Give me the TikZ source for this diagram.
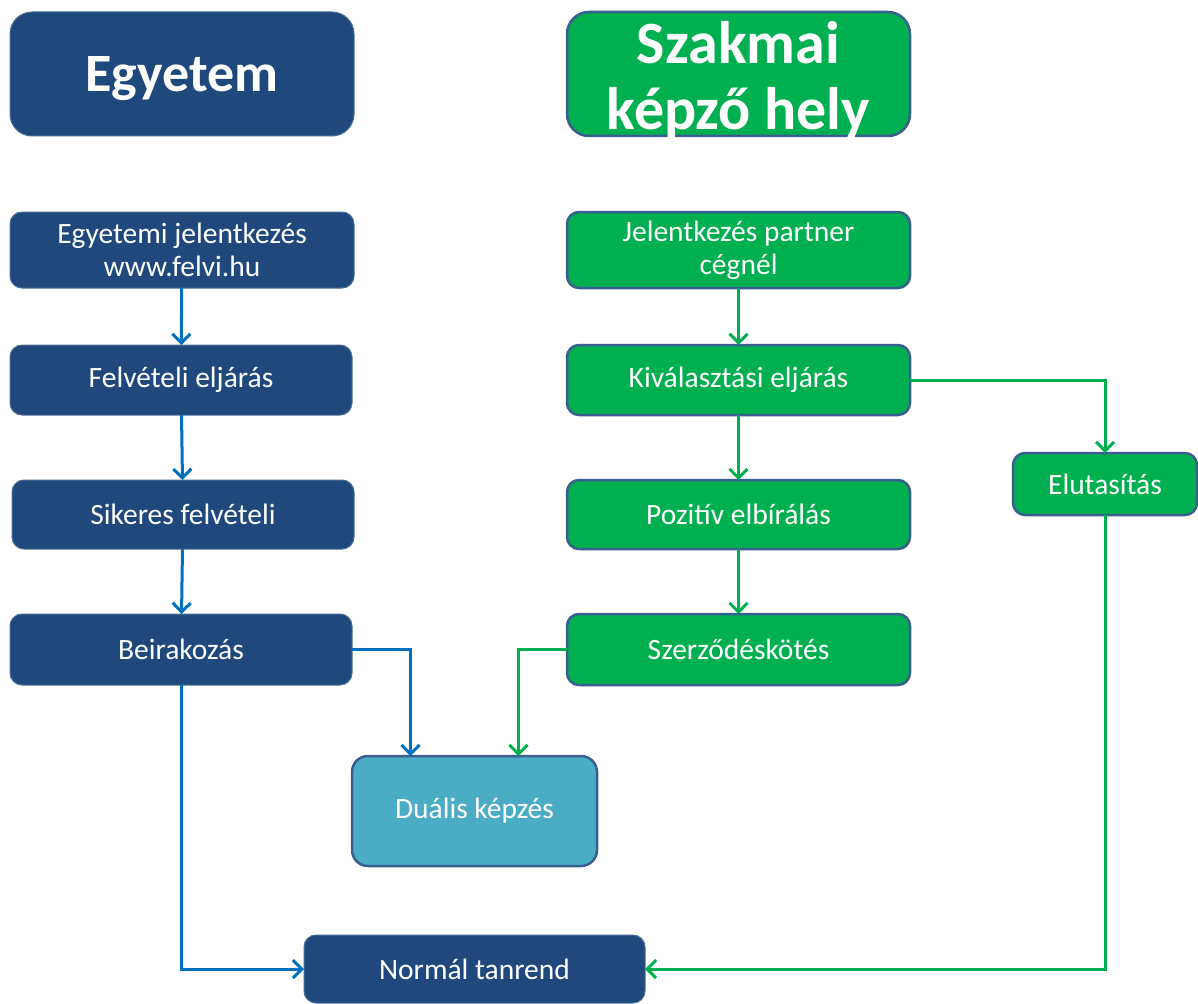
\documentclass[tikz,border=0pt]{standalone}
\usepackage{fontspec}
\setmainfont{Carlito}
\usetikzlibrary{arrows.meta}
\definecolor{darkblue}{HTML}{1F497D}
\definecolor{edgeblue}{HTML}{3A5F8F}
\definecolor{boxgreen}{HTML}{00B050}
\definecolor{arrowblue}{HTML}{0070C0}
\definecolor{dualblue}{HTML}{4BACC6}
\tikzset{
	box/.style={inner sep=0pt, outer sep=0pt, align=center, text=white, rounded corners=12pt,
		font=\fontsize{29.5}{33}\selectfont},
	unibox/.style={box, fill=darkblue, draw=darkblue!80!white, line width=1pt},
	firmbox/.style={box, fill=boxgreen, draw=edgeblue, line width=2.5pt},
	titlebox/.style={rounded corners=22pt, minimum width=344pt, minimum height=124pt,
		font=\fontsize{54}{63}\bfseries\selectfont},
	titletext/.style={text=white, align=center, inner sep=0pt, font=\fontsize{60}{66}\bfseries\selectfont},
	uniarrow/.style={draw=arrowblue, line width=3pt, -{Straight Barb[length=9pt,width=18pt]}},
	firmarrow/.style={draw=boxgreen, line width=3pt, -{Straight Barb[length=9pt,width=18pt]}}
}
\begin{document}
\begin{tikzpicture}[x=1pt, y=-1pt]
		\useasboundingbox (0,0) rectangle (1198,1003);
		\node[unibox, titlebox, text depth=0pt] (egyetem) at (182,74) {Egyetem};
		\node[firmbox, titlebox, minimum width=343pt] (szakmai) at (738.5,74) {};
		\node[titletext] (szakmaitext) at ([yshift=-6pt]szakmai.center) {Szakmai\\képző hely};
		\node[unibox, minimum width=344pt, minimum height=76pt] (jelentkezes) at (182,250) {Egyetemi jelentkezés\\www.felvi.hu};
		\node[unibox, minimum width=342pt, minimum height=70pt] (felveteli) at (181,380) {Felvételi eljárás};
		\node[unibox, minimum width=342pt, minimum height=69pt] (sikeres) at (183,514.5) {Sikeres felvételi};
		\node[unibox, minimum width=342pt, minimum height=71pt] (beirakozas) at (181,649.5) {Beirakozás};
		\node[firmbox, minimum width=343pt, minimum height=76pt] (partner) at (738.5,250) {Jelentkezés partner\\cégnél};
		\node[firmbox, minimum width=343pt, minimum height=70pt] (kivalasztas) at (738.5,380) {Kiválasztási eljárás};
		\node[firmbox, minimum width=343pt, minimum height=69pt] (pozitiv) at (738.5,514.5) {Pozitív elbírálás};
		\node[firmbox, minimum width=343pt, minimum height=71pt] (szerzodes) at (738.5,649.5) {Szerződéskötés};
		\node[firmbox, minimum width=184pt, minimum height=62pt] (elutasitas) at (1105,484) {Elutasítás};
		\node[box, fill=dualblue, draw=edgeblue, line width=2.5pt, rounded corners=16pt,
			minimum width=245pt, minimum height=110pt] (dualis) at (474.5,811) {Duális képzés};
		\node[unibox, minimum width=341pt, minimum height=68pt] (normal) at (474.5,969) {Normál tanrend};
		\draw[uniarrow] (jelentkezes) -- (felveteli);
		\draw[uniarrow] (felveteli) -- (sikeres);
		\draw[uniarrow] (sikeres) -- (beirakozas);
		\draw[uniarrow] (beirakozas.east) -| ([xshift=-64pt]dualis.north);
		\draw[uniarrow] (beirakozas.south) |- (normal.west);
		\draw[firmarrow] (partner) -- (kivalasztas);
		\draw[firmarrow] (kivalasztas) -- (pozitiv);
		\draw[firmarrow] (pozitiv) -- (szerzodes);
		\draw[firmarrow] (kivalasztas.east) -| (elutasitas.north);
		\draw[firmarrow] (szerzodes.west) -| ([xshift=44pt]dualis.north);
		\draw[firmarrow] (elutasitas.south) |- (normal.east);
\end{tikzpicture}
\end{document}
